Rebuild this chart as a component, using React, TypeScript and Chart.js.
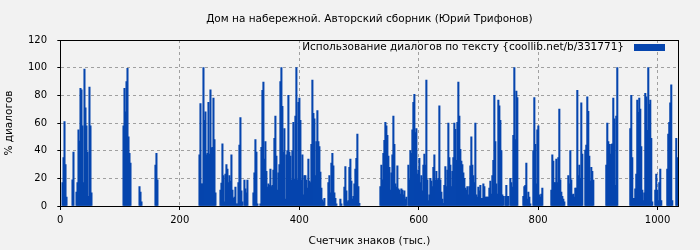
import { useEffect, useRef } from 'react';
import { Chart, registerables } from 'chart.js';

Chart.register(...registerables);

const TITLE = 'Дом на набережной. Авторский сборник (Юрий Трифонов)';
const SERIES_LABEL = 'Использование диалогов по тексту {coollib.net/b/331771}';
const X_TITLE = 'Счетчик знаков (тыс.)';
const Y_TITLE = '% диалогов';
const X_MIN = 0;
const X_MAX = 1035;
const Y_MIN = 0;
const Y_MAX = 120;
const X_TICKS = [0, 200, 400, 600, 800, 1000];
const Y_TICKS = [0, 20, 40, 60, 80, 100, 120];

// sampling interval of the readings (thousand characters per sample)
const STEP = 1.6736;

// start of each run of readings (thousand characters)
const runStarts = [3.7, 20.4, 105.8, 132.6, 159.3, 233.0, 268.1, 343.4, 535.9, 694.9, 870.6];

// % of dialogue in each sample of a run
const run1 = [17, 35, 61, 30, 6.5];
const run2 = [19, 39, 0, 0, 10, 17, 55, 47, 85, 84, 58, 17, 99, 71, 58, 39, 7, 86, 58, 9.5];
const run3 = [58, 85, 68, 90, 99.5, 50, 38, 31];
const run4 = [14, 10, 3];
const run5 = [29.5, 38, 19];
const run6 = [37, 74, 16, 16, 100, 62, 68, 37, 38, 75, 37.5, 84, 42, 42.5, 78, 48, 9.5];
const run7 = [11.5, 16.5, 45, 22, 3, 23, 30, 26.6, 17, 22, 18, 37, 11.5, 5.5, 6.5, 13.7, 1.5, 1.5, 17, 44, 64, 11, 3,
  0, 18.7, 12.5, 9.5, 18.7, 0, 0, 0, 0, 0, 9.5, 24, 48, 39, 1.5, 0, 0, 1.5, 42.5, 83.6, 89.5, 34];
const run8 = [46.6, 25, 13.7, 16, 15, 26.6, 14, 15, 26, 49,
  65, 36, 11.5, 24, 30, 90, 100, 72, 39, 56,
  5, 37, 40, 80, 39, 36, 18.7, 40, 60.5, 19.5,
  65, 100, 19, 75, 78, 62, 18.7, 37, 8, 22,
  22, 18.7, 13, 34, 18, 17, 44.5, 91, 67, 63,
  22, 46.6, 69, 46.6, 43, 24.5, 13, 4.5, 3, 5.5,
  0, 0, 0, 17, 22, 9.5, 31, 38, 29, 9.5,
  5.5, 1.5, 0, 0, 0, 5, 1.5, 0, 0, 13.7,
  28.5, 11, 3, 4, 28, 34, 18, 5, 7, 16,
  26.6, 34.5, 52, 14, 2];
const run9 = [14, 29.5, 19, 38, 47.5, 60.5, 58, 51, 36, 28,
  11.5, 24, 37, 65, 44.5, 16, 13.7, 29, 12.5, 11.5,
  8.6, 12.5, 11.5, 8, 11, 5, 6.5, 0, 29.5, 19,
  40, 38, 55, 75, 80.7, 53, 56, 23, 26, 34.5,
  17, 22, 11, 29.5, 37.5, 29.5, 91, 19, 4, 8,
  20, 18, 14, 28, 37, 18.7, 25, 18.7, 20, 72.5,
  19, 10, 5, 2, 15, 28.5, 14, 26, 60, 35,
  29.5, 14, 25, 35, 60, 55.5, 33, 60.5, 89.5, 65,
  41, 32.4, 30, 24, 20, 13, 11.5, 14, 8, 14,
  29, 50, 29.5, 22, 17];
const run10 = [60, 8, 6.5, 13.7, 11, 15, 5.5, 5.5, 16, 14,
  6.5, 6.5, 6.5, 6.5, 13, 18, 8.6, 22, 33, 80,
  46.6, 16, 8.6, 76.5, 72.5, 62, 40, 8, 7, 0,
  7, 15, 7, 7, 0, 20, 17, 13.7, 51, 100,
  48, 83, 78.4, 0, 0, 0, 0, 0, 7, 14,
  15, 31, 5, 10, 6.5, 1.5, 0, 0, 40, 78.4,
  44.5, 16, 55, 58, 8, 6.5, 8.6, 13, 0, 0,
  0, 0, 0, 0, 0, 0, 11.5, 37, 32.4, 17,
  17, 34, 17, 35, 70, 19, 10, 7, 5, 3,
  0, 0, 0, 22, 16, 40, 19, 8, 8.6, 6.5,
  13, 13, 83.6, 22, 29.5];
const run11 = [20, 74.5, 37.5, 0, 0, 40.4, 44, 79, 68.5, 36,
  18, 28, 25, 18.7, 0, 0, 0, 0, 0, 0,
  0, 0, 0, 0, 0, 0, 29.5, 60, 46.6, 44.5,
  37.5, 44.5, 45, 78, 63, 15, 65, 100, 0, 0,
  0, 0, 0, 0, 0, 0, 0, 0, 0, 0,
  56, 80, 35, 5.5, 5.5, 12.5, 23, 76.5, 67.7, 78,
  70, 43, 11.5, 4, 9.5, 81.5, 79, 54.7, 100, 73.5,
  76.5, 49, 3, 0, 0, 11.5, 23, 11.5, 4, 17,
  26.6, 4, 0, 0, 0, 0, 0, 26.6, 52, 60.5,
  74.5, 87.6, 4, 0, 0, 0, 49, 35];

const runs = [run1, run2, run3, run4, run5, run6, run7, run8, run9, run10, run11];

const BAR_COLOR = '#0645ae';
const BG = '#f2f2f2';
const GRID = '#a0a0a0';
const FONT = '"DejaVu Sans", sans-serif';
const TEXT_SIZE = 10.5;
const TICK_SIZE = 10;

function buildPoints() {
  const pts: { x: number; y: number }[] = [];
  runs.forEach((vals, r) => {
    vals.forEach((v, i) => {
      if (v > 0) pts.push({ x: runStarts[r] + i * STEP, y: v });
    });
  });
  return pts;
}

const decorPlugin = {
  id: 'decor',
  beforeDraw(chart: any) {
    const { ctx } = chart;
    ctx.save();
    ctx.fillStyle = BG;
    ctx.fillRect(0, 0, chart.width, chart.height);
    ctx.restore();
  },
  afterDraw(chart: any) {
    const { ctx, chartArea } = chart;
    const { left, right, top, bottom } = chartArea;
    ctx.save();
    ctx.strokeStyle = '#000';
    ctx.lineWidth = 1;
    ctx.setLineDash([]);
    ctx.strokeRect(Math.round(left) + 0.5, Math.round(top) + 0.5, Math.round(right - left), Math.round(bottom - top));
    // title
    ctx.fillStyle = '#000';
    ctx.font = `${TEXT_SIZE}px ${FONT}`;
    ctx.textAlign = 'center';
    ctx.textBaseline = 'middle';
    ctx.fillText(TITLE, (left + right) / 2, 19.5);
    // legend inside plot, top right
    const boxRight = right - 13.5;
    const boxW = 31;
    ctx.textAlign = 'right';
    ctx.fillText(SERIES_LABEL, boxRight - boxW - 10, top + 7);
    ctx.fillStyle = BAR_COLOR;
    ctx.fillRect(boxRight - boxW, top + 4, boxW, 7);
    ctx.restore();
  },
};

export default function App() {
  const ref = useRef<HTMLCanvasElement | null>(null);
  useEffect(() => {
    if (!ref.current) return;
    const chart = new Chart(ref.current, {
      type: 'bar',
      data: {
        datasets: [
          {
            label: SERIES_LABEL,
            data: buildPoints(),
            backgroundColor: BAR_COLOR,
            borderWidth: 0,
            barThickness: 1.4,
          },
        ],
      },
      options: {
        responsive: false,
        animation: false,
        events: [],
        layout: { padding: { left: 0, right: 21.5, top: 40, bottom: 0 } },
        plugins: {
          legend: { display: false },
          title: { display: false },
          tooltip: { enabled: false },
        },
        scales: {
          x: {
            type: 'linear',
            min: X_MIN,
            max: X_MAX,
            offset: false,
            afterFit: (s: any) => { s.height = 44; },
            afterBuildTicks: (s: any) => { s.ticks = X_TICKS.map((v) => ({ value: v })); },
            ticks: {
              color: '#000',
              font: { family: FONT, size: TICK_SIZE },
              padding: 4.6,
              maxRotation: 0,
              autoSkip: false,
              callback: (v: any) => String(v),
            },
            grid: {
              offset: false,
              color: GRID,
              lineWidth: 1,
              drawTicks: true,
              tickLength: 4,
              tickColor: '#000',
              tickBorderDash: [],
            },
            border: { display: true, color: '#000', dash: [3, 3] },
            title: {
              display: true,
              text: X_TITLE,
              color: '#000',
              font: { family: FONT, size: TEXT_SIZE },
              padding: { top: 0, bottom: 2.7 },
            },
          },
          y: {
            min: Y_MIN,
            max: Y_MAX,
            afterFit: (s: any) => { s.width = 60.3; },
            afterBuildTicks: (s: any) => { s.ticks = Y_TICKS.map((v) => ({ value: v })); },
            ticks: {
              color: '#000',
              font: { family: FONT, size: TICK_SIZE },
              padding: 10.3,
              autoSkip: false,
              callback: (v: any) => String(v),
            },
            grid: {
              offset: false,
              color: GRID,
              lineWidth: 1,
              drawTicks: true,
              tickLength: 3,
              tickColor: '#000',
              tickBorderDash: [],
            },
            border: { display: true, color: '#000', dash: [3, 3] },
            title: {
              display: true,
              text: Y_TITLE,
              color: '#000',
              font: { family: FONT, size: TEXT_SIZE },
              padding: { top: 2.7, bottom: 0 },
            },
          },
        },
      },
      plugins: [decorPlugin],
    });
    return () => chart.destroy();
  }, []);
  return (
    <div style={{ position: 'fixed', left: 0, top: 0, width: 700, height: 250, background: BG }}>
      <canvas ref={ref} width={700} height={250} />
    </div>
  );
}
